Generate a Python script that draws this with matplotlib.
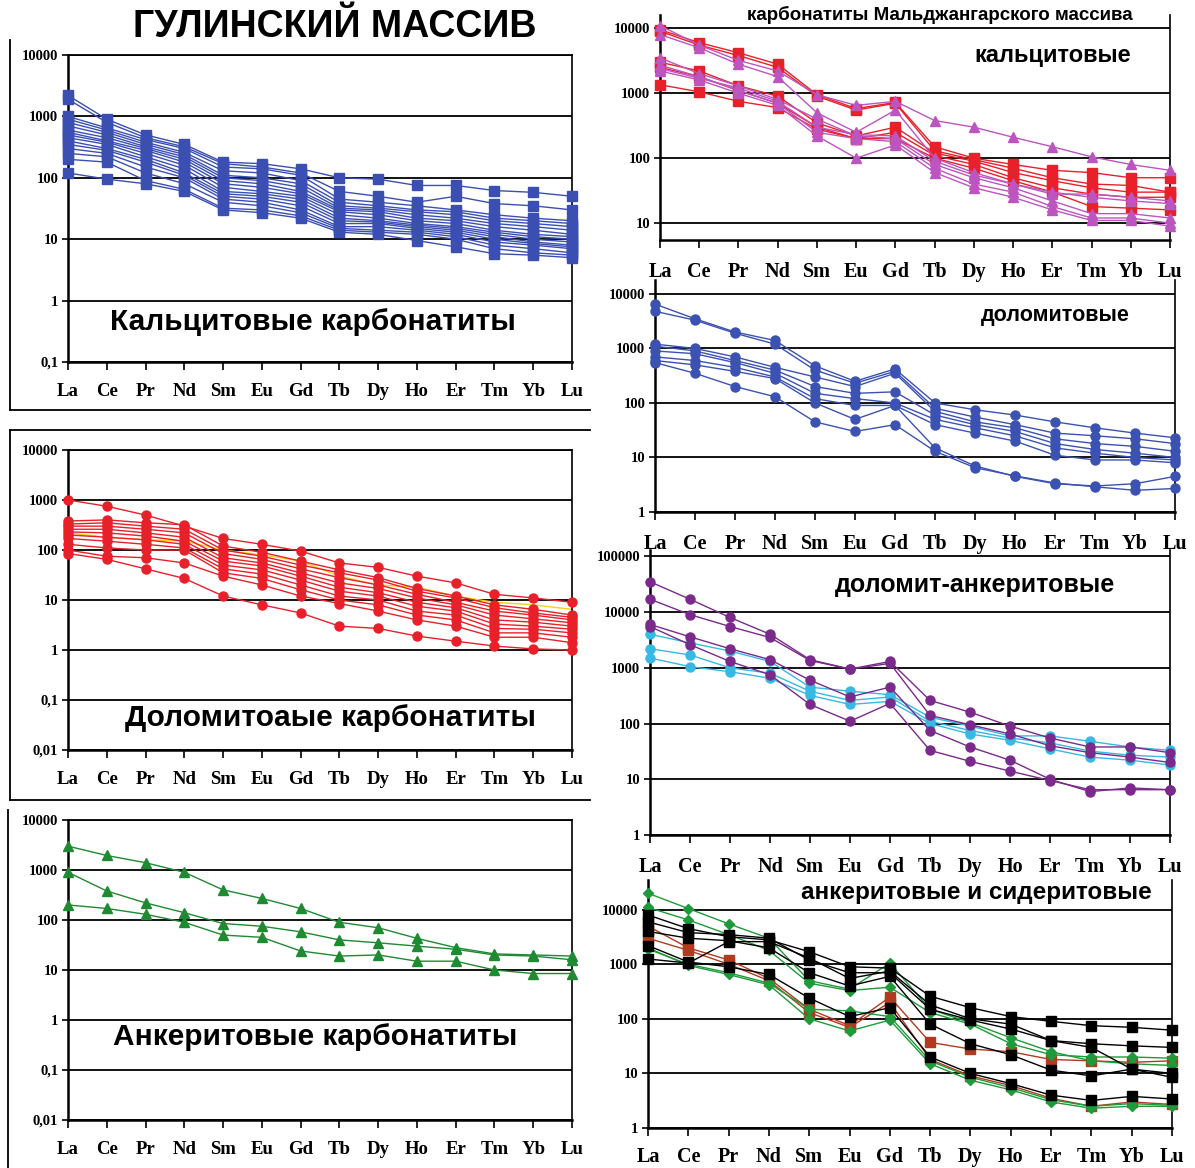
import matplotlib.pyplot as plt
from matplotlib.lines import Line2D
import numpy as np

ree = ["La", "Ce", "Pr", "Nd", "Sm", "Eu", "Gd", "Tb", "Dy", "Ho", "Er", "Tm", "Yb", "Lu"]

# Гулинский массив: кальцитовые карбонатиты
gul_calcite = [
    [2200, 900, 500, 350, 180, 170, 140, 100, 95, 75, 75, 62, 58, 50],
    [1900, 800, 450, 320, 170, 150, 120, 60, 50, 40, 50, 38, 35, 30],
    [1000, 650, 420, 300, 150, 140, 110, 45, 40, 35, 30, 25, 22, 20],
    [900, 600, 380, 260, 130, 120, 90, 40, 35, 30, 28, 22, 20, 18],
    [800, 550, 350, 240, 110, 100, 80, 35, 32, 28, 25, 20, 18, 16],
    [700, 500, 320, 220, 100, 90, 70, 32, 30, 25, 22, 18, 16, 14],
    [600, 450, 300, 200, 90, 80, 60, 30, 28, 22, 20, 16, 14, 12],
    [550, 400, 280, 180, 80, 70, 55, 28, 25, 20, 18, 14, 12, 11],
    [500, 380, 250, 160, 70, 60, 50, 25, 22, 18, 16, 13, 11, 10],
    [450, 350, 220, 140, 60, 55, 45, 22, 20, 17, 15, 12, 10, 9],
    [400, 300, 200, 120, 55, 50, 40, 20, 19, 16, 14, 11, 9, 8],
    [350, 280, 180, 110, 50, 45, 35, 18, 18, 15, 13, 10, 8.5, 7.5],
    [300, 250, 150, 100, 45, 40, 30, 16, 16, 14, 12, 9, 8, 7],
    [250, 220, 120, 80, 40, 35, 27, 15, 14, 13, 11, 8, 7, 6],
    [200, 180, 90, 65, 32, 30, 24, 14, 13, 12, 10, 7, 6, 5.5],
    [120, 95, 80, 60, 30, 27, 22, 13, 12, 9.5, 7.5, 5.8, 5.5, 5],
]

# Гулинский массив: доломитовые карбонатиты
gul_dolomite = [
    [1000, 750, 500, 300, 170, 130, 95, 55, 45, 30, 22, 13, 11, 9],
    [380, 400, 350, 320, 120, 90, 60, 40, 28, 17, 12, 8, 6.5, 5],
    [330, 350, 300, 260, 100, 75, 50, 35, 25, 15, 11, 7, 5.5, 4.5],
    [300, 300, 260, 220, 85, 65, 42, 28, 20, 13, 9, 6, 5, 4],
    [260, 260, 220, 180, 70, 55, 35, 22, 17, 11, 8, 5, 4.2, 3.5],
    [230, 220, 190, 150, 60, 48, 30, 18, 14, 9, 7, 4, 3.6, 3],
    [200, 180, 160, 130, 50, 40, 25, 15, 12, 7.5, 6, 3.3, 3, 2.6],
    [170, 150, 130, 110, 42, 33, 20, 12, 10, 6, 5, 2.7, 2.6, 2.2],
    [130, 110, 100, 100, 35, 27, 16, 10, 8, 5, 4, 2.2, 2.2, 1.8],
    [100, 75, 70, 55, 30, 20, 12, 8.5, 6, 4, 3, 1.8, 1.8, 1.4],
    [85, 65, 42, 27, 12, 8, 5.5, 3, 2.7, 1.9, 1.5, 1.2, 1.05, 1.0],
]
gul_dolomite_yellow = [220, 180, 160, 150, 100, 80, 60, 30, 20, 18, 12, 9, 8, 6.5]

# Гулинский массив: анкеритовые карбонатиты
gul_ankerite = [
    [3000, 1950, 1400, 900, 400, 270, 170, 90, 70, 43, 28, 21, 20, 19],
    [900, 380, 220, 140, 85, 75, 58, 40, 35, 30, 26, 20, 19, 16],
    [200, 170, 130, 90, 50, 45, 24, 19, 20, 15, 15, 10, 8.5, 8.5],
]

# Мальджангарский массив: кальцитовые
mal_calc_sq = [
    [9500, 6000, 4200, 2800, 950, 580, 720, 150, 100, 80, 65, 60, 50, 50],
    [9000, 5500, 3800, 2500, 900, 550, 700, 130, 95, 70, 50, 40, 38, 30],
    [3000, 2200, 1300, 900, 350, 220, 300, 120, 90, 60, 45, 35, 30, 30],
    [2500, 1800, 1100, 700, 300, 200, 250, 110, 80, 50, 35, 28, 25, 25],
    [1350, 1050, 750, 600, 280, 200, 200, 100, 70, 45, 30, 18, 17, 16],
]
mal_calc_tri = [
    [11000, 5500, 3200, 2200, 950, 650, 750, 380, 300, 210, 150, 105, 80, 65],
    [8000, 5000, 2800, 1800, 500, 250, 550, 100, 60, 40, 30, 25, 22, 20],
    [3500, 2000, 1300, 800, 400, 220, 200, 80, 50, 35, 22, 14, 14, 12],
    [2700, 1800, 1100, 700, 250, 200, 180, 70, 40, 30, 18, 12, 12, 10],
    [2200, 1600, 1000, 650, 220, 100, 160, 60, 35, 25, 16, 11, 11, 9],
    [2400, 1700, 1200, 750, 300, 230, 220, 90, 55, 40, 28, 28, 25, 22],
]

# Мальджангарский массив: доломитовые
mal_dolomite = [
    [6500, 3500, 2000, 1400, 480, 250, 420, 100, 75, 60, 45, 35, 28, 23],
    [4800, 3300, 1900, 1200, 400, 230, 380, 80, 55, 40, 28, 25, 22, 18],
    [1200, 1000, 700, 450, 300, 200, 350, 70, 45, 35, 22, 18, 16, 13],
    [1100, 900, 600, 400, 200, 150, 160, 60, 40, 30, 18, 14, 12, 10],
    [900, 800, 550, 350, 150, 120, 100, 50, 35, 25, 15, 12, 10, 9],
    [700, 600, 450, 300, 120, 90, 90, 40, 28, 20, 11, 9, 9, 8],
    [600, 500, 380, 280, 100, 50, 90, 15, 7, 4.5, 3.3, 3, 3.3, 4.5],
    [550, 350, 200, 130, 45, 30, 40, 13, 6.5, 4.6, 3.4, 2.9, 2.5, 2.7],
]

# Мальджангарский массив: доломит-анкеритовые
mal_dolank_purple = [
    [35000, 17000, 8000, 4000, 1400, 950, 1300, 260, 160, 90, 55, 38, 38, 30],
    [17000, 9000, 5500, 3500, 1350, 950, 1200, 140, 95, 65, 40, 30, 25, 20],
    [6000, 3600, 2200, 1400, 600, 300, 450, 75, 38, 22, 10, 6, 7, 6.5],
    [5500, 2600, 1300, 750, 220, 110, 230, 33, 21, 14, 9.5, 6.5, 6.5, 6.5],
]
mal_dolank_cyan = [
    [4000, 2800, 2000, 1300, 450, 380, 330, 130, 90, 60, 60, 48, 38, 33],
    [2200, 1700, 1000, 800, 380, 260, 300, 110, 75, 55, 45, 32, 27, 25],
    [1500, 1050, 850, 650, 320, 220, 250, 100, 65, 50, 35, 25, 22, 18],
]

# Мальджангарский массив: анкеритовые и сидеритовые
mal_ank_black = [
    [8000, 4500, 3200, 2800, 1700, 900, 850, 260, 160, 110, 90, 75, 70, 62],
    [6000, 3800, 3500, 3000, 1200, 700, 700, 150, 95, 65, 40, 35, 32, 30],
    [4000, 3000, 2700, 2000, 700, 400, 600, 80, 35, 22, 11.5, 9, 12, 8.5],
    [2200, 1100, 900, 650, 240, 110, 160, 20, 10, 6.5, 4, 3.2, 3.8, 3.4],
    [1250, 1050, 2600, 2600, 1300, 550, 750, 180, 100, 80, 40, 30, 12, 10],
]
mal_ank_green = [
    [20000, 10500, 5500, 3000, 500, 350, 1050, 150, 85, 45, 25, 17, 15, 14],
    [11000, 6500, 3500, 1800, 450, 330, 380, 130, 80, 35, 22, 20, 20, 19],
    [2000, 950, 650, 420, 100, 60, 95, 15, 7.5, 5, 3, 2.3, 2.5, 2.5],
    [1900, 1000, 700, 450, 150, 140, 110, 17, 8.5, 5.5, 3.3, 2.5, 2.8, 2.6],
]
mal_ank_brown = [
    [5000, 2000, 1200, 550, 150, 75, 250, 37, 28, 25, 18, 17, 16, 17],
    [3000, 1800, 1000, 500, 130, 70, 200, 18, 9, 6, 3.5, 2.5, 3, 2.7],
]

W, H = 1195, 1168
plt.rcParams['font.family'] = ['Liberation Sans', 'DejaVu Sans']
fig = plt.figure(figsize=(W / 100, H / 100), dpi=100)
fig.patch.set_facecolor('white')


def add_panel(left, top, right, bottom):
    ax = fig.add_axes([left / W, 1 - bottom / H, (right - left) / W, (bottom - top) / H])
    ax.set_facecolor('none')
    return ax


def fmt_tick(v):
    if v >= 1:
        return str(int(v))
    return ("%g" % v).replace(".", ",")


def style(ax, ymin, ymax, decades, xfs=13.5, yfs=10.5, xpad=9, top_spine=True):
    ax.set_yscale('log')
    ax.set_ylim(ymin, ymax)
    ax.set_xlim(0, len(ree) - 1)
    ax.set_yticks(decades)
    ax.set_yticklabels([fmt_tick(v) for v in decades], fontfamily='Liberation Serif',
                       fontweight='bold', fontsize=yfs)
    ax.yaxis.set_minor_locator(plt.NullLocator())
    ax.set_xticks(range(len(ree)))
    ax.set_xticklabels(ree, fontfamily='Liberation Serif', fontweight='bold', fontsize=xfs)
    ax.tick_params(axis='x', length=6, width=1.2, pad=xpad, color='black')
    ax.tick_params(axis='y', length=4, width=1.2, pad=3)
    ax.yaxis.grid(True, color='black', lw=1.3)
    ax.set_axisbelow(True)
    for side in ['left', 'bottom']:
        ax.spines[side].set_linewidth(1.8)
    ax.spines['right'].set_linewidth(1.2)
    ax.spines['top'].set_linewidth(1.3)
    ax.spines['top'].set_visible(top_spine)


def draw(ax, series, color, marker, ms, lw=1.0):
    x = np.arange(len(ree))
    for s in series:
        ax.plot(x, s, color=color, marker=marker, ms=ms, lw=lw,
                mec=color, mfc=color, clip_on=False, zorder=3)


blue = '#3B4FB3'
red = '#E8202A'
green = '#1F8A32'

# --- левая колонка: Гулинский массив ---
ax1 = add_panel(68, 55, 572, 362)
style(ax1, 0.1, 10000, [0.1, 1, 10, 100, 1000, 10000])
draw(ax1, gul_calcite, blue, 's', 6.5)
ax1.text(0.486, 0.13, "Кальцитовые карбонатиты", transform=ax1.transAxes,
         ha='center', va='center', fontsize=21.5, fontweight='bold')

ax2 = add_panel(68, 450, 572, 750)
style(ax2, 0.01, 10000, [0.01, 0.1, 1, 10, 100, 1000, 10000])
draw(ax2, gul_dolomite, red, 'o', 6.5)
ax2.plot(np.arange(len(ree)), gul_dolomite_yellow, color='#F2D21B', lw=1.0, zorder=2.5)
ax2.text(0.52, 0.107, "Доломитоаые карбонатиты", transform=ax2.transAxes,
         ha='center', va='center', fontsize=21.5, fontweight='bold')

ax3 = add_panel(68, 820, 572, 1120)
style(ax3, 0.01, 10000, [0.01, 0.1, 1, 10, 100, 1000, 10000])
draw(ax3, gul_ankerite, green, '^', 7.5)
ax3.text(0.49, 0.277, "Анкеритовые карбонатиты", transform=ax3.transAxes,
         ha='center', va='center', fontsize=21.5, fontweight='bold')

fig.text(335 / W, 1 - 27 / H, "ГУЛИНСКИЙ МАССИВ", ha='center', va='center',
         fontsize=27, fontweight='heavy')

# рамки вокруг левых диаграмм
frame_lines = [
    ((10, 10), (40, 410)), ((10, 590), (410, 410)),
    ((10, 590), (430, 430)), ((10, 10), (430, 800)), ((10, 590), (800, 800)),
    ((8, 8), (810, 1168)),
]
for xs, ys in frame_lines:
    fig.add_artist(Line2D([x / W for x in xs], [1 - y / H for y in ys],
                          color='black', lw=1.3))

# --- правая колонка: Мальджангарский массив ---
ax4 = add_panel(660, 15, 1170, 240)
style(ax4, 5.5, 16000, [10, 100, 1000, 10000], xfs=14.5, xpad=10, top_spine=False)
draw(ax4, mal_calc_sq, red, 's', 7)
draw(ax4, mal_calc_tri, '#BD55C0', '^', 7)
fig.text(940 / W, 1 - 15 / H, "карбонатиты Мальджангарского массива", ha='center',
         va='center', fontsize=13.5, fontweight='bold')
ax4.text(0.77, 0.82, "кальцитовые", transform=ax4.transAxes, ha='center',
         va='center', fontsize=17, fontweight='bold')

ax5 = add_panel(655, 280, 1175, 512)
style(ax5, 1, 18000, [1, 10, 100, 1000, 10000], xfs=14.5, xpad=10, top_spine=False)
draw(ax5, mal_dolomite, '#3C52B2', 'o', 6.5)
ax5.text(0.77, 0.845, "доломитовые", transform=ax5.transAxes, ha='center',
         va='center', fontsize=15.5, fontweight='bold')

ax6 = add_panel(650, 550, 1170, 835)
style(ax6, 1, 130000, [1, 10, 100, 1000, 10000, 100000], xfs=14.5, xpad=10,
      top_spine=False)
draw(ax6, mal_dolank_cyan, '#36B9E2', 'o', 6.5)
draw(ax6, mal_dolank_purple, '#7A2A8A', 'o', 6.5)
ax6.text(0.625, 0.877, "доломит-анкеритовые", transform=ax6.transAxes, ha='center',
         va='center', fontsize=18, fontweight='bold')

ax7 = add_panel(648, 880, 1172, 1128)
style(ax7, 1, 35000, [1, 10, 100, 1000, 10000], xfs=14.5, xpad=8, top_spine=False)
draw(ax7, mal_ank_brown, '#B33A1E', 's', 6.5)
draw(ax7, mal_ank_green, '#1E9A3A', 'D', 5.5)
draw(ax7, mal_ank_black, 'black', 's', 6.5)
fig.text(976 / W, 1 - 892 / H, "анкеритовые и сидеритовые", ha='center',
         va='center', fontsize=17.5, fontweight='bold')

fig.savefig("out.png", dpi=100, facecolor='white')
